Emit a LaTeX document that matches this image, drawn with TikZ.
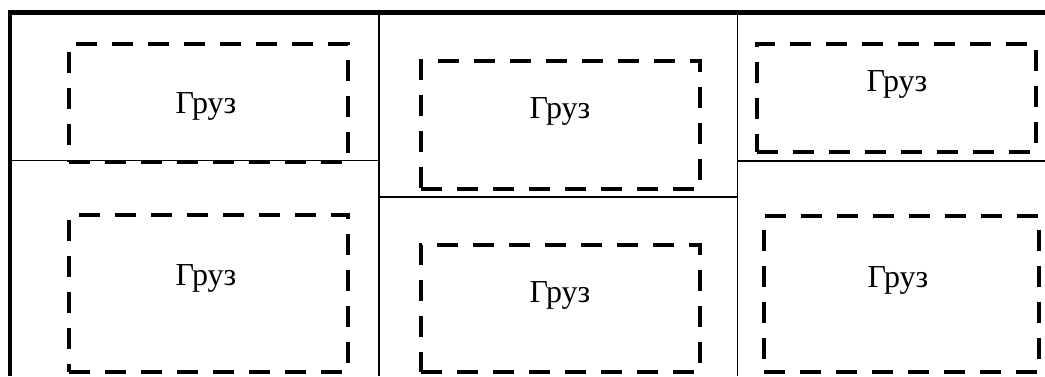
\documentclass[tikz,border=0pt]{standalone}
\usepackage{fontspec}
\setmainfont{Liberation Serif}
\begin{document}
\begin{tikzpicture}[x=1pt,y=-1pt,
  frame/.style={line width=4.6pt},
  divider/.style={line width=1.4pt},
  cargo/.style={draw,line width=4pt,dash pattern=on 21pt off 15pt,
    rectangle,inner sep=0pt,anchor=north west},
  lbl/.style={font=\fontsize{32}{35}\selectfont,inner sep=0pt}]
\useasboundingbox (0,0) rectangle (1045,376);
% outer frame (top and left edges)
\coordinate (tl) at (10,12.5);
\coordinate (tr) at (1045,12.5);
\coordinate (bl) at (10,376);
\draw[frame] (tr) -- (tl) -- (bl);
% column dividers
\coordinate (c1t) at (379,12.5);
\coordinate (c1b) at (379,376);
\coordinate (c2t) at (737.5,12.5);
\coordinate (c2b) at (737.5,376);
\draw[divider] (c1t) -- (c1b);
\draw[divider] (c2t) -- (c2b);
% shelf lines within each column
\coordinate (s1a) at (10,160.5);
\coordinate (s1b) at (379,160.5);
\coordinate (s2a) at (379,197);
\coordinate (s2b) at (737.5,197);
\coordinate (s3a) at (737.5,161);
\coordinate (s3b) at (1045,161);
\draw[divider] (s1a) -- (s1b);
\draw[divider] (s2a) -- (s2b);
\draw[divider] (s3a) -- (s3b);
% cargo outlines
\node[cargo,minimum width=279pt,minimum height=118pt] (g1) at (67,42) {};
\node[cargo,minimum width=279pt,minimum height=157pt] (g2) at (67,213) {};
\node[cargo,minimum width=279pt,minimum height=128pt] (g3) at (419,59) {};
\node[cargo,minimum width=279pt,minimum height=127pt] (g4) at (419,243) {};
\node[cargo,minimum width=279pt,minimum height=108pt] (g5) at (755,42) {};
\node[cargo,minimum width=275pt,minimum height=156pt] (g6) at (762,214) {};
% labels
\node[lbl] (t1) at (206,106) {Груз};
\node[lbl] (t2) at (206,278) {Груз};
\node[lbl] (t3) at (560,111) {Груз};
\node[lbl] (t4) at (560,295) {Груз};
\node[lbl] (t5) at (897,84) {Груз};
\node[lbl] (t6) at (898,280) {Груз};
\end{tikzpicture}
\end{document}
